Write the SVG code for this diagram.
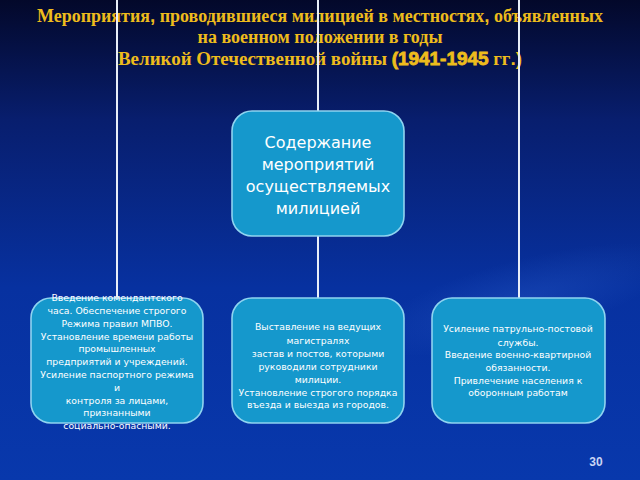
<svg xmlns="http://www.w3.org/2000/svg" width="640" height="480" viewBox="0 0 640 480">
<defs>
<linearGradient id="bg" x1="0" y1="0" x2="0" y2="1">
<stop offset="0" stop-color="#03082a"/>
<stop offset="0.25" stop-color="#081e6e"/>
<stop offset="0.6" stop-color="#0731a0"/>
<stop offset="1" stop-color="#0838ac"/>
</linearGradient>
<radialGradient id="swirl" cx="0.5" cy="0.5" r="0.5">
<stop offset="0" stop-color="#2a5cc8" stop-opacity="0.35"/>
<stop offset="1" stop-color="#2a5cc8" stop-opacity="0"/>
</radialGradient>
<style>
.box{fill:#1598cc;stroke:#8fd4f0;stroke-width:1.6}
.line{stroke:#e8eef8;stroke-width:2;fill:none}
.big{font-family:"DejaVu Sans","Liberation Sans",sans-serif;font-size:16px;fill:#ffffff;text-anchor:middle}
.sm{font-family:"DejaVu Sans","Liberation Sans",sans-serif;font-size:9.3px;fill:#ffffff;text-anchor:middle}
.title{font-family:"Liberation Serif",serif;font-weight:bold;font-size:18px;fill:#eebc1c;text-anchor:middle}
.ss{font-family:"Liberation Sans",sans-serif;font-weight:bold}
</style>
</defs>
<rect width="640" height="480" fill="url(#bg)"/>
<ellipse cx="520" cy="300" rx="160" ry="40" transform="rotate(-15 520 300)" fill="url(#swirl)"/>
<g id="title">
<text class="title" x="320" y="22" textLength="566" lengthAdjust="spacingAndGlyphs">Мероприятия<tspan class="ss" font-size="19">,</tspan> проводившиеся милицией в местностях<tspan class="ss" font-size="19">,</tspan> объявленных</text>
<text class="title" x="320" y="43" textLength="245" lengthAdjust="spacingAndGlyphs">на военном положении в годы</text>
<text class="title" x="320" y="65" textLength="404" lengthAdjust="spacingAndGlyphs">Великой Отечественной войны <tspan class="ss" font-size="18" stroke="#eebc1c" stroke-width="0.8">(1941-1945</tspan> гг<tspan class="ss">.)</tspan></text>
</g>
<g id="connectors">
<line class="line" x1="117" y1="0" x2="117" y2="298"/>
<line class="line" x1="318" y1="0" x2="318" y2="111"/>
<line class="line" x1="318" y1="236" x2="318" y2="298"/>
<line class="line" x1="519" y1="0" x2="519" y2="298"/>
</g>
<g id="center">
<rect class="box" x="232" y="111" width="172" height="125" rx="20"/>
<text class="big" x="318" y="148">Содержание</text>
<text class="big" x="318" y="170">мероприятий</text>
<text class="big" x="318" y="192">осуществляемых</text>
<text class="big" x="318" y="214">милицией</text>
</g>
<g id="left">
<rect class="box" x="31" y="298" width="172" height="125" rx="20"/>
<text class="sm" x="117" y="301">Введение комендантского</text>
<text class="sm" x="117" y="314">часа. Обеспечение строгого</text>
<text class="sm" x="117" y="327">Режима правил МПВО.</text>
<text class="sm" x="117" y="340">Установление времени работы</text>
<text class="sm" x="117" y="352">промышленных</text>
<text class="sm" x="117" y="365">предприятий и учреждений.</text>
<text class="sm" x="117" y="378">Усиление паспортного режима</text>
<text class="sm" x="117" y="391">и</text>
<text class="sm" x="117" y="404">контроля за лицами,</text>
<text class="sm" x="117" y="416">признанными</text>
<text class="sm" x="117" y="429">социально-опасными.</text>
</g>
<g id="middle">
<rect class="box" x="232" y="298" width="172" height="125" rx="20"/>
<text class="sm" x="318" y="330">Выставление на ведущих</text>
<text class="sm" x="318" y="344">магистралях</text>
<text class="sm" x="318" y="357">застав и постов, которыми</text>
<text class="sm" x="318" y="370">руководили сотрудники</text>
<text class="sm" x="318" y="383">милиции.</text>
<text class="sm" x="318" y="396">Установление строгого порядка</text>
<text class="sm" x="318" y="408">въезда и выезда из городов.</text>
</g>
<g id="right">
<rect class="box" x="432" y="298" width="173" height="125" rx="20"/>
<text class="sm" x="518" y="332">Усиление патрульно-постовой</text>
<text class="sm" x="518" y="346">службы.</text>
<text class="sm" x="518" y="358">Введение военно-квартирной</text>
<text class="sm" x="518" y="371">обязанности.</text>
<text class="sm" x="518" y="384">Привлечение населения к</text>
<text class="sm" x="518" y="396">оборонным работам</text>
</g>
<text x="596" y="466" font-family="Liberation Sans, sans-serif" font-size="12" font-weight="bold" fill="#c8d4f4" text-anchor="middle">30</text>
</svg>
